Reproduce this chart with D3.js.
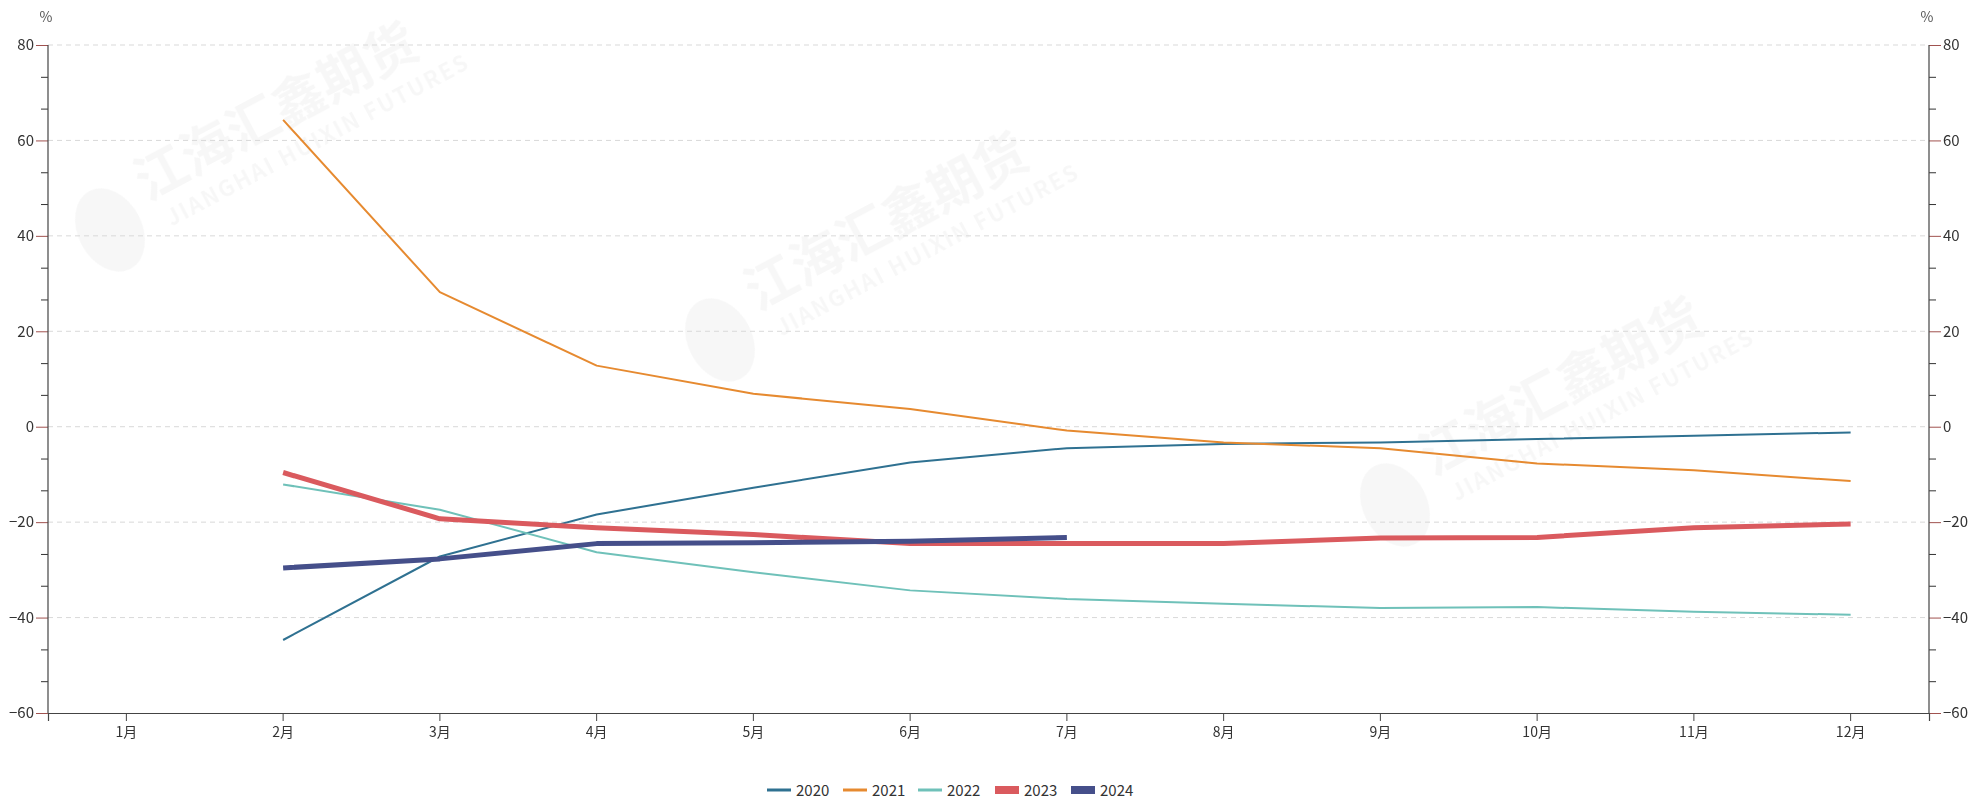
<!DOCTYPE html>
<html><head><meta charset="utf-8">
<script src="https://cdn.jsdelivr.net/npm/d3@7/dist/d3.min.js"></script>
<style>
html,body{margin:0;padding:0;background:#fff;}
svg{display:block;font-family:"Noto Sans CJK SC","Noto Sans",sans-serif;}
</style></head><body>
<svg id="chart" width="1970" height="799"></svg>
<script>
const months = ["1月","2月","3月","4月","5月","6月","7月","8月","9月","10月","11月","12月"];
const years = ["2020","2021","2022","2023","2024"];
const s2020 = [null, -44.7, -27.2, -18.4, -12.8, -7.5, -4.5, -3.6, -3.3, -2.6, -1.9, -1.2];
const s2021 = [null, 64.3, 28.2, 12.8, 6.9, 3.7, -0.8, -3.3, -4.5, -7.7, -9.1, -11.4];
const s2022 = [null, -12.1, -17.4, -26.3, -30.5, -34.3, -36.1, -37.1, -38.0, -37.8, -38.8, -39.4];
const s2023 = [null, -9.6, -19.3, -21.2, -22.6, -24.5, -24.5, -24.5, -23.3, -23.2, -21.2, -20.4];
const s2024 = [null, -29.6, -27.7, -24.5, -24.3, -24.0, -23.2, null, null, null, null, null];
const yTicks = [80, 60, 40, 20, 0, -20, -40, -60];
const yMinorTicks = [73.33,66.67,53.33,46.67,33.33,26.67,13.33,6.67,-6.67,-13.33,-26.67,-33.33,-46.67,-53.33];

const seriesData = [s2020, s2021, s2022, s2023, s2024];
const colors = ["#2f7191", "#e68a30", "#6fc1b9", "#da5a5e", "#454f8a"];
const widths = [2, 2, 2, 5, 5];

const svg = d3.select("#chart");
const L = 48, R = 1929, T = 45, B = 713;

const x = d3.scaleBand().domain(months).range([L, R]);
const y = d3.scaleLinear().domain([-60, 80]).range([B, T]);
const cx = m => x(m) + x.bandwidth() / 2;

// watermark
const wm = svg.append("g").attr("fill", "#000").attr("opacity", 0.035);
[[110,230],[720,340],[1395,505]].forEach(([wx, wy]) => {
  const g = wm.append("g").attr("transform", `translate(${wx},${wy}) rotate(-28)`);
  g.append("ellipse").attr("cx", 0).attr("cy", 0).attr("rx", 32).attr("ry", 44);
  g.append("text").attr("x", 46).attr("y", -8).attr("font-size", 52).attr("font-weight", "bold").text("江海汇鑫期货");
  g.append("text").attr("x", 56).attr("y", 26).attr("font-size", 22).attr("font-weight", "bold").attr("letter-spacing", 2).text("JIANGHAI HUIXIN FUTURES");
});

// grid
svg.append("g").selectAll("line").data(yTicks.filter(v => v !== -60)).join("line")
  .attr("x1", L).attr("x2", R).attr("y1", d => y(d)).attr("y2", d => y(d))
  .attr("stroke", "#d9d9d9").attr("stroke-dasharray", "5,4").attr("stroke-width", 1);

// left axis
const leftAxis = d3.axisLeft(y).tickValues(yTicks).tickSize(12).tickPadding(2).tickFormat(d3.format("d"));
const gl = svg.append("g").attr("transform", `translate(${L},0)`).call(leftAxis);
gl.select(".domain").remove();
gl.selectAll(".tick line").attr("stroke", "#a0524f");
gl.selectAll(".tick text").attr("fill", "#333").attr("font-size", 15).attr("font-family", "Noto Sans CJK SC, sans-serif");
svg.append("g").attr("transform", `translate(${L},0)`)
  .call(d3.axisLeft(y).tickValues(yMinorTicks).tickSize(7).tickFormat(""))
  .call(g => { g.select(".domain").remove(); g.selectAll(".tick line").attr("stroke", "#333"); });
svg.append("line").attr("x1", L).attr("x2", L).attr("y1", T).attr("y2", B).attr("stroke", "#444").attr("stroke-width", 1.2);

// right axis
const rightAxis = d3.axisRight(y).tickValues(yTicks).tickSize(12).tickPadding(2).tickFormat(d3.format("d"));
const gr = svg.append("g").attr("transform", `translate(${R},0)`).call(rightAxis);
gr.select(".domain").remove();
gr.selectAll(".tick line").attr("stroke", "#a0524f");
gr.selectAll(".tick text").attr("fill", "#333").attr("font-size", 15).attr("font-family", "Noto Sans CJK SC, sans-serif");
svg.append("g").attr("transform", `translate(${R},0)`)
  .call(d3.axisRight(y).tickValues(yMinorTicks).tickSize(7).tickFormat(""))
  .call(g => { g.select(".domain").remove(); g.selectAll(".tick line").attr("stroke", "#333"); });
svg.append("line").attr("x1", R).attr("x2", R).attr("y1", T).attr("y2", B).attr("stroke", "#444").attr("stroke-width", 1.2);

// units
svg.append("text").attr("x", L - 2).attr("y", 22).attr("text-anchor", "middle").attr("font-size", 14).attr("fill", "#555").text("%");
svg.append("text").attr("x", R - 2).attr("y", 22).attr("text-anchor", "middle").attr("font-size", 14).attr("fill", "#555").text("%");

// x axis
const xAxis = d3.axisBottom(x).tickSize(8).tickPadding(6);
const gx = svg.append("g").attr("transform", `translate(0,${B})`).call(xAxis);
gx.select(".domain").attr("stroke", "#444").attr("stroke-width", 1.2);
gx.selectAll(".tick line").attr("stroke", "#444");
gx.selectAll(".tick text").attr("fill", "#333").attr("font-size", 14).attr("font-family", "Noto Sans CJK SC, sans-serif");

// lines
const line = d3.line().defined(d => d.v !== null).x(d => cx(d.m)).y(d => y(d.v));
seriesData.forEach((s, i) => {
  const pts = months.map((m, j) => ({ m, v: s[j] }));
  svg.append("path").datum(pts).attr("d", line)
    .attr("fill", "none").attr("stroke", colors[i]).attr("stroke-width", widths[i])
    .attr("stroke-linejoin", "round");
});

// legend
const legX = [767, 843, 918, 995, 1071];
const lg = svg.append("g");
years.forEach((yr, i) => {
  const g = lg.append("g").attr("transform", `translate(${legX[i]},790)`);
  if (widths[i] > 3) {
    g.append("rect").attr("x", 0).attr("y", -4).attr("width", 24).attr("height", 8).attr("fill", colors[i]);
  } else {
    g.append("line").attr("x1", 0).attr("x2", 24).attr("y1", 0).attr("y2", 0).attr("stroke", colors[i]).attr("stroke-width", 3);
  }
  g.append("text").attr("x", 29).attr("y", 6).attr("font-size", 15).attr("fill", "#333").text(yr);
});
</script>
</body></html>
